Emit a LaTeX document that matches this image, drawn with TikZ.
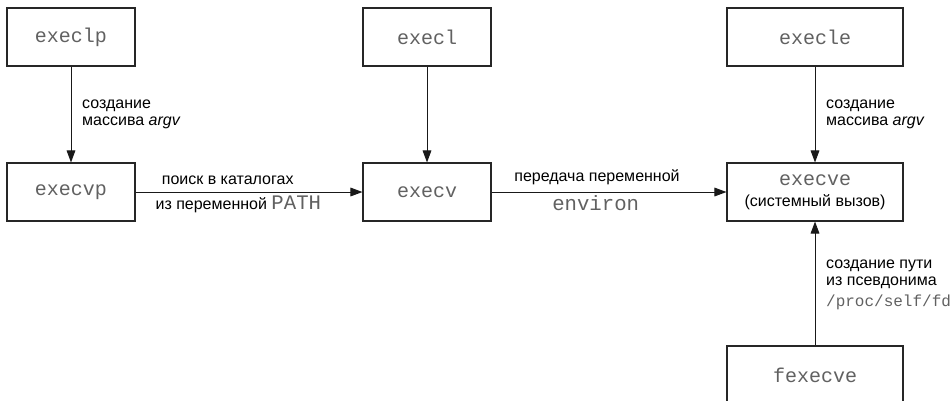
\documentclass[tikz,border=0pt]{standalone}
\usepackage{fontspec}
\setmainfont{Liberation Sans}
\setmonofont{Liberation Mono}
\usetikzlibrary{arrows.meta}
\usetikzlibrary{positioning}

\begin{document}
\begin{tikzpicture}
	[x=0.75pt, y=-0.75pt,
	font=\fontsize{12}{12.75}\selectfont]

\tikzstyle{fnbox}=[draw=black!85, line width=0.8pt, minimum width=96pt,
	minimum height=43.5pt, inner sep=0pt, text=black!62,
	font=\fontsize{15}{17}\selectfont\ttfamily]
\tikzstyle{widebox}=[fnbox, minimum width=132pt]
\tikzstyle{flow}=[line width=0.75pt, draw=black!90,
	-{Triangle[length=9pt, width=6.5pt]}]
\tikzstyle{note}=[align=left, inner sep=0pt, anchor=west]
\tikzstyle{code}=[text=black!62, font=\fontsize{15.5}{17}\selectfont\ttfamily]

\useasboundingbox (0, 0) rectangle (952, 400);

% Top row
\node[fnbox] (execlp) at (71, 37) {execlp};
\node[fnbox] (execl) at (427, 37) {execl};
\node[widebox] (execle) at (815, 37) {execle};

% Middle row
\node[fnbox] (execvp) at (71, 192) {execvp};
\node[fnbox] (execv) at (427, 192) {execv};
\node[widebox, align=center] (execve) at (815, 192)
	{execve\\[-1pt]{\rmfamily\fontsize{12}{13}\selectfont\color{black}(системный вызов)}};

% Bottom row
\node[widebox] (fexecve) at (815, 375) {fexecve};

% Down from the top row
\draw[flow] (execlp) -- (execvp)
	node [note, pos=0.5, xshift=8pt] {создание\\массива \textit{argv}};
\draw[flow] (execl) -- (execv);
\draw[flow] (execle) -- (execve)
	node [note, pos=0.5, xshift=8pt] {создание\\массива \textit{argv}};

% Across the middle row
\draw[flow] (execvp) -- (execv)
	node [midway, above, xshift=-16pt, yshift=2pt] {поиск в каталогах}
	node [midway, below, xshift=-8pt, yshift=1pt]
		{из переменной {\fontsize{15.5}{17}\selectfont\ttfamily\color{black!62}PATH}};
\draw[flow] (execv) -- (execve)
	node [midway, above, xshift=-9pt, yshift=2pt] {передача переменной}
	node [midway, below, code, xshift=-10pt, yshift=1pt] {environ};

% Up from fexecve
\draw[flow] (fexecve.north -| execve.south) -- (execve.south)
	node [note, pos=0.5, xshift=8pt, yshift=-1pt]
		{создание пути\\из псевдонима\\[3pt]
		{\fontsize{12}{13}\selectfont\ttfamily\color{black!62}/proc/self/fd}};

\end{tikzpicture}
\end{document}
